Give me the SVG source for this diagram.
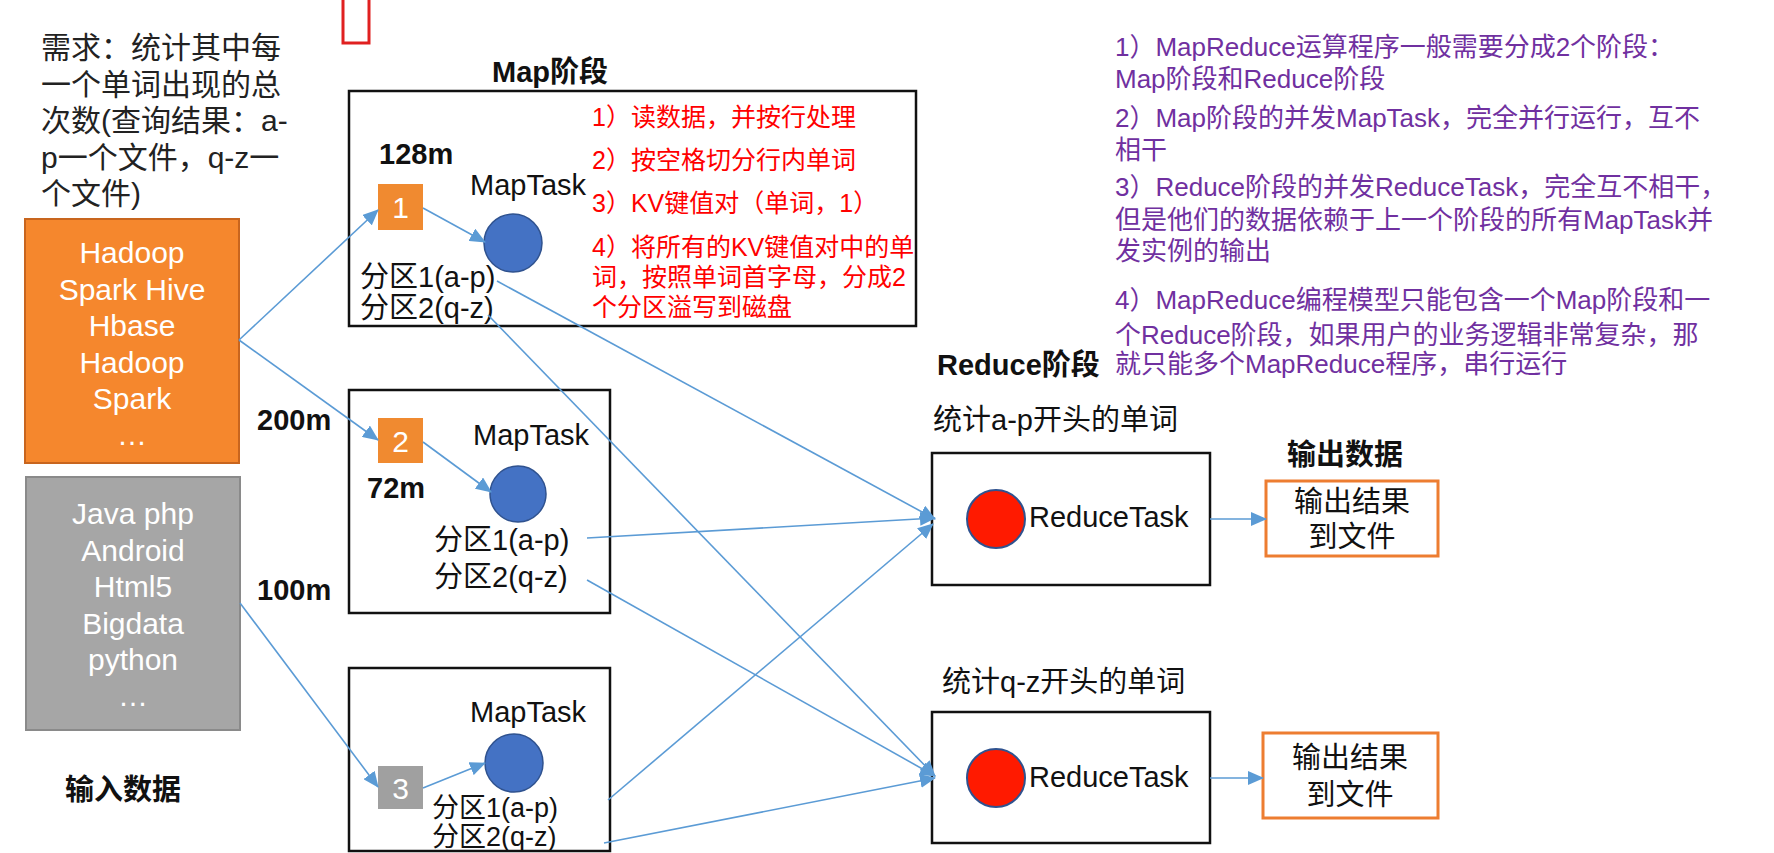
<svg xmlns="http://www.w3.org/2000/svg" width="1774" height="853" viewBox="0 0 1774 853">
<defs>
<marker id="arr" markerUnits="userSpaceOnUse" markerWidth="16" markerHeight="14" refX="15" refY="7" orient="auto">
<path d="M0,0 L16,7 L0,14 z" fill="#5B9BD5"/>
</marker>
<style>
text{font-family:"Liberation Sans","Noto Sans CJK SC",sans-serif;}
.t{font-size:29px;fill:#111;}
.s{font-size:27px;fill:#111;}
.b{font-size:29px;font-weight:bold;fill:#111;}
.w{font-size:30px;fill:#fff;text-anchor:middle;}
.req{font-size:30px;fill:#222;}
.red{font-size:25px;fill:#FF0000;}
.pur{font-size:26px;fill:#7030A0;}
.box{fill:none;stroke:#111;stroke-width:2.5;}
.out{fill:#fff;stroke:#ED7D31;stroke-width:3;}
.mc{fill:#4472C4;stroke:#2F528F;stroke-width:1.5;}
.rc{fill:#FF1A00;stroke:#2F528F;stroke-width:2;}
.ln{stroke:#5B9BD5;stroke-width:1.6;fill:none;marker-end:url(#arr);}
.c{text-anchor:middle;}
</style>
</defs>
<rect width="1774" height="853" fill="#fff"/>

<rect x="343" y="-3" width="26" height="46" fill="none" stroke="#E02020" stroke-width="3"/>

<g id="requirement">
<text class="req" x="41" y="58">需求：统计其中每</text>
<text class="req" x="41" y="94.5">一个单词出现的总</text>
<text class="req" x="41" y="131">次数(查询结果：a-</text>
<text class="req" x="41" y="167.5">p一个文件，q-z一</text>
<text class="req" x="41" y="204">个文件)</text>
</g>

<g id="input1">
<rect x="25" y="219" width="214" height="244" fill="#F5872D" stroke="#C8651E" stroke-width="2"/>
<text class="w" x="132" y="263">Hadoop</text>
<text class="w" x="132" y="299.5">Spark Hive</text>
<text class="w" x="132" y="336">Hbase</text>
<text class="w" x="132" y="372.5">Hadoop</text>
<text class="w" x="132" y="409">Spark</text>
<text class="w" x="132" y="445">…</text>
</g>

<g id="input2">
<rect x="26" y="477" width="214" height="253" fill="#A6A6A6" stroke="#8A8A8A" stroke-width="2"/>
<text class="w" x="133" y="524">Java php</text>
<text class="w" x="133" y="560.5">Android</text>
<text class="w" x="133" y="597">Html5</text>
<text class="w" x="133" y="633.5">Bigdata</text>
<text class="w" x="133" y="670">python</text>
<text class="w" x="133" y="706">…</text>
</g>

<g id="input-label"><text class="b" x="65" y="800">输入数据</text></g>

<g id="sizes">
<text class="b" x="379" y="164">128m</text>
<text class="b" x="257" y="430">200m</text>
<text class="b" x="367" y="498">72m</text>
<text class="b" x="257" y="600">100m</text>
</g>

<g id="map-title"><text class="b" x="492" y="82">Map阶段</text></g>

<g id="map1">
<rect class="box" x="349" y="91" width="567" height="235"/>
<rect x="378" y="184" width="45" height="46" fill="#F08A30"/>
<text class="w" x="400.5" y="218">1</text>
<text class="t" x="470" y="195">MapTask</text>
<circle class="mc" cx="513" cy="243" r="29"/>
<text class="t" x="360" y="287">分区1(a-p)</text>
<text class="t" x="360" y="318">分区2(q-z)</text>
<text class="red" x="592" y="126">1）读数据，并按行处理</text>
<text class="red" x="592" y="169">2）按空格切分行内单词</text>
<text class="red" x="592" y="212">3）KV键值对（单词，1）</text>
<text class="red" x="592" y="256">4）将所有的KV键值对中的单</text>
<text class="red" x="592" y="286">词，按照单词首字母，分成2</text>
<text class="red" x="592" y="316">个分区溢写到磁盘</text>
</g>

<g id="map2">
<rect class="box" x="349" y="390" width="261" height="223"/>
<rect x="378" y="418" width="45" height="45" fill="#F08A30"/>
<text class="w" x="400.5" y="452">2</text>
<text class="t" x="473" y="445">MapTask</text>
<circle class="mc" cx="518" cy="494" r="28"/>
<text class="t" x="434" y="550">分区1(a-p)</text>
<text class="t" x="434" y="587">分区2(q-z)</text>
</g>

<g id="map3">
<rect class="box" x="349" y="668" width="261" height="183"/>
<rect x="378" y="766" width="45" height="43" fill="#A0A0A0"/>
<text class="w" x="400.5" y="799">3</text>
<text class="t" x="470" y="722">MapTask</text>
<circle class="mc" cx="514" cy="763" r="29"/>
<text class="s" x="432" y="817">分区1(a-p)</text>
<text class="s" x="432" y="846">分区2(q-z)</text>
</g>

<g id="reduce-title"><text class="b" x="937" y="375">Reduce阶段</text></g>

<g id="reduce1">
<text class="t" x="933" y="430">统计a-p开头的单词</text>
<rect class="box" x="932" y="453" width="278" height="132"/>
<circle class="rc" cx="996" cy="519" r="29"/>
<text class="t" x="1029" y="527">ReduceTask</text>
</g>

<g id="reduce2">
<text class="t" x="942" y="692">统计q-z开头的单词</text>
<rect class="box" x="932" y="712" width="278" height="131"/>
<circle class="rc" cx="996" cy="778" r="29"/>
<text class="t" x="1029" y="787">ReduceTask</text>
</g>

<g id="output-title"><text class="b" x="1287" y="465">输出数据</text></g>

<g id="output1">
<rect class="out" x="1266" y="481" width="172" height="75"/>
<text class="t c" x="1352" y="512">输出结果</text>
<text class="t c" x="1352" y="547">到文件</text>
</g>

<g id="output2">
<rect class="out" x="1263" y="733" width="175" height="85"/>
<text class="t c" x="1350" y="768">输出结果</text>
<text class="t c" x="1350" y="805">到文件</text>
</g>

<g id="notes">
<text class="pur" x="1115" y="56">1）MapReduce运算程序一般需要分成2个阶段：</text>
<text class="pur" x="1115" y="88">Map阶段和Reduce阶段</text>
<text class="pur" x="1115" y="127">2）Map阶段的并发MapTask，完全并行运行，互不</text>
<text class="pur" x="1115" y="159">相干</text>
<text class="pur" x="1115" y="196">3）Reduce阶段的并发ReduceTask，完全互不相干，</text>
<text class="pur" x="1115" y="229">但是他们的数据依赖于上一个阶段的所有MapTask并</text>
<text class="pur" x="1115" y="260">发实例的输出</text>
<text class="pur" x="1115" y="309">4）MapReduce编程模型只能包含一个Map阶段和一</text>
<text class="pur" x="1115" y="344">个Reduce阶段，如果用户的业务逻辑非常复杂，那</text>
<text class="pur" x="1115" y="373">就只能多个MapReduce程序，串行运行</text>
</g>

<g id="connectors">
<path class="ln" d="M239,340 L378,210"/>
<path class="ln" d="M239,340 L378,440"/>
<path class="ln" d="M240,603 L378,787"/>
<path class="ln" d="M423,208 L485,242"/>
<path class="ln" d="M423,442 L491,492"/>
<path class="ln" d="M423,788 L485,763"/>
<path class="ln" d="M497,281 L935,519"/>
<path class="ln" d="M488,315 L935,776"/>
<path class="ln" d="M587,538 L935,518"/>
<path class="ln" d="M587,580 L935,776"/>
<path class="ln" d="M608,800 L933,524"/>
<path class="ln" d="M604,843 L935,778"/>
<path class="ln" d="M1210,519 L1266,519"/>
<path class="ln" d="M1210,778 L1263,778"/>
</g>
</svg>
